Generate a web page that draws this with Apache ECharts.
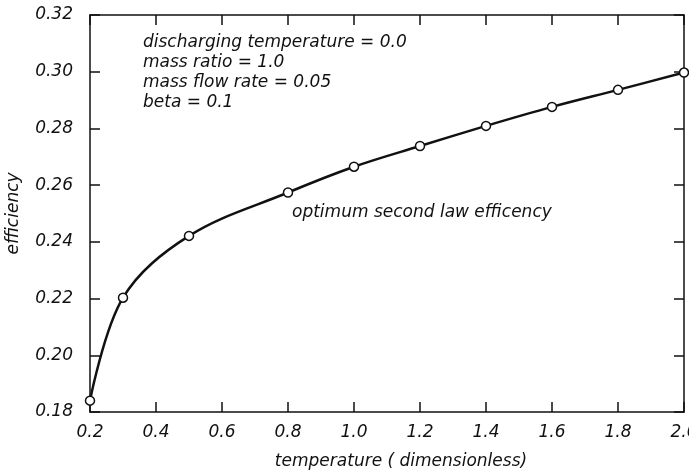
<!DOCTYPE html>
<html>
<head>
<meta charset="utf-8">
<script src="https://cdn.jsdelivr.net/npm/echarts@6/dist/echarts.min.js"></script>
<style>
    html, body { margin: 0; padding: 0; background: #fff; }
    #chart { width: 689px; height: 472px; }
</style>
</head>
<body>
<div id="chart"></div>
<script>
    var temperature = [0.2, 0.3, 0.5, 0.8, 1.0, 1.2, 1.4, 1.6, 1.8, 2.0];
    var efficiency = [0.184, 0.2203, 0.2421, 0.2574, 0.2665, 0.2738, 0.2809, 0.2876, 0.2936, 0.2997];
    var notes = [
        'discharging temperature = 0.0',
        'mass ratio = 1.0',
        'mass flow rate = 0.05',
        'beta = 0.1'
    ];
    var curveLabel = 'optimum second law efficency';

    var font = '"DejaVu Sans", sans-serif';
    var ink = '#111';
    var fs = 17;

    var points = temperature.map(function (t, i) {
        return [t, efficiency[i]];
    });

    var chart = echarts.init(document.getElementById('chart'));

    var axisBase = function (extra) {
        var ax = {
            type: 'value',
            axisLine: { show: true, onZero: false, lineStyle: { color: ink, width: 1.5 } },
            axisTick: { show: true, inside: true, length: 10, lineStyle: { color: ink, width: 1.5 } },
            splitLine: { show: false },
            axisLabel: { show: false }
        };
        for (var k in extra) ax[k] = extra[k];
        return ax;
    };

    chart.setOption({
        backgroundColor: '#fff',
        animation: false,
        grid: { left: 90, right: 5, top: 15, bottom: 60, outerBoundsMode: 'none' },
        xAxis: [
            axisBase({
                min: 0.2, max: 2.0, interval: 0.2,
                position: 'bottom',
                name: 'temperature ( dimensionless)',
                nameLocation: 'middle',
                nameGap: 41,
                nameTextStyle: { color: ink, fontFamily: font, fontStyle: 'italic', fontSize: fs, padding: [0, 0, 0, 28] },
                axisLabel: {
                    show: true, color: ink, fontFamily: font, fontStyle: 'italic', fontSize: fs, margin: 12,
                    formatter: function (v) { return v.toFixed(1); }
                }
            }),
            axisBase({
                min: 0.2, max: 2.0, interval: 0.2,
                position: 'top'
            })
        ],
        yAxis: [
            axisBase({
                min: 0.18, max: 0.32, interval: 0.02,
                position: 'left',
                name: 'efficiency',
                nameLocation: 'middle',
                nameGap: 68,
                nameTextStyle: { color: ink, fontFamily: font, fontStyle: 'italic', fontSize: fs },
                axisLabel: {
                    show: true, color: ink, fontFamily: font, fontStyle: 'italic', fontSize: fs, margin: 17,
                    formatter: function (v) { return v.toFixed(2); }
                }
            }),
            axisBase({
                min: 0.18, max: 0.32, interval: 0.02,
                position: 'right'
            })
        ],
        graphic: [
            {
                type: 'text',
                left: 143,
                top: 33,
                style: {
                    text: notes.join('\n'),
                    font: 'italic ' + fs + 'px ' + font,
                    fill: ink,
                    lineHeight: 20
                }
            },
            {
                type: 'text',
                left: 292,
                top: 204,
                style: {
                    text: curveLabel,
                    font: 'italic ' + fs + 'px ' + font,
                    fill: ink
                }
            }
        ],
        series: [
            {
                type: 'line',
                data: points,
                smooth: 0.35,
                clip: false,
                symbol: 'circle',
                symbolSize: 9,
                itemStyle: { color: '#fff', borderColor: ink, borderWidth: 1.5 },
                lineStyle: { color: ink, width: 2.5 }
            }
        ]
    });
</script>
</body>
</html>
